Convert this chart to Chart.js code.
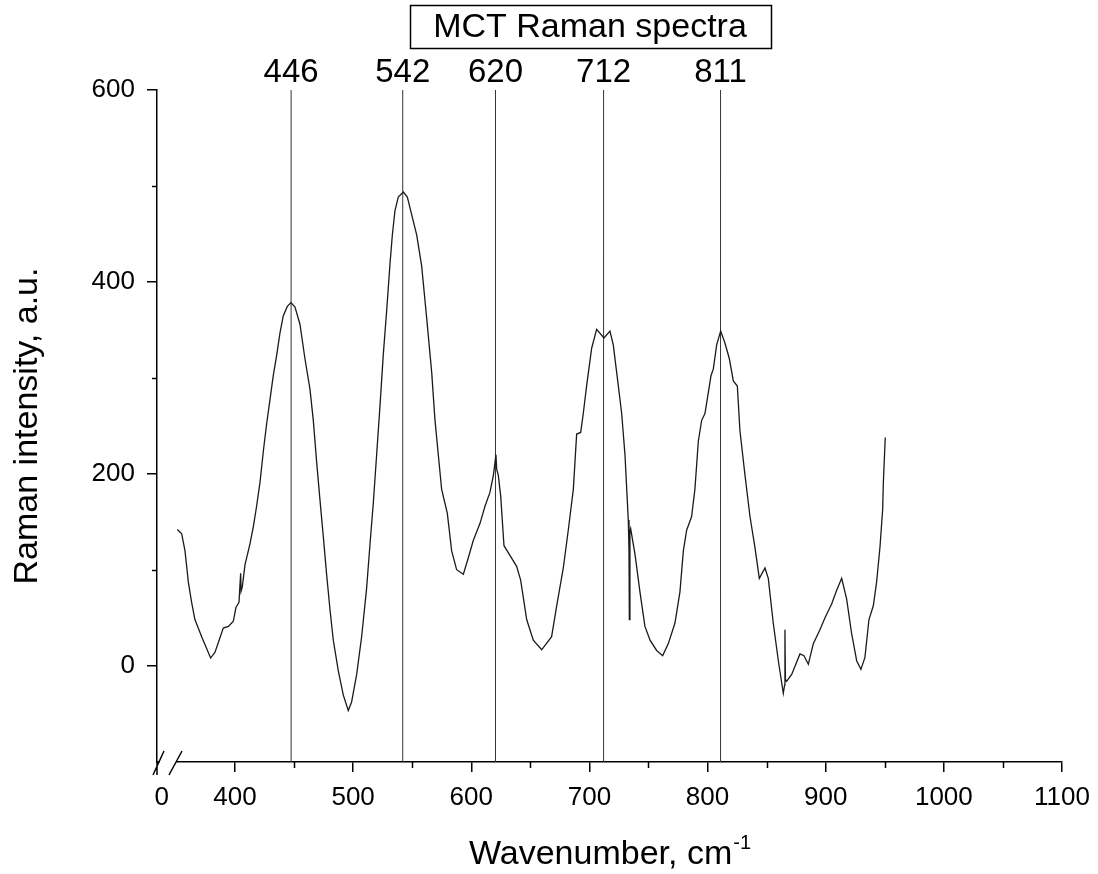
<!DOCTYPE html>
<html>
<head>
<meta charset="utf-8">
<title>MCT Raman spectra</title>
<script src="https://cdn.jsdelivr.net/npm/chart.js@4.4.1/dist/chart.umd.min.js"></script>
<style>
  html, body { margin: 0; padding: 0; background: #fff; }
  #wrap { width: 1098px; height: 874px; }
</style>
</head>
<body>
<div id="wrap"><canvas id="ramanChart" width="1098" height="874"></canvas></div>
<script>
// ---- data ----
const wavenumber = [
  351.2, 354.9, 357.7, 360.5, 363.3, 366.1, 371.8, 379.4, 383.1, 390.1,
  394.4, 398.6, 400.8, 403.4, 404.8, 405.2, 406.2, 408.5, 412.7, 415.5,
  418.3, 421.2, 424.0, 426.8, 429.6, 432.4, 435.3, 438.1, 440.9, 444.3,
  447.4, 450.8, 455.0, 459.2, 463.5, 466.3, 469.1, 471.9, 474.8, 477.6,
  480.4, 483.2, 487.5, 491.7, 495.9, 498.7, 503.0, 507.2, 511.4, 514.3,
  517.1, 519.9, 522.7, 525.5, 528.4, 531.2, 533.2, 535.4, 538.2, 542.5,
  545.9, 549.5, 553.8, 558.0, 562.2, 566.5, 569.3, 572.1, 574.9, 579.7,
  583.4, 587.6, 593.3, 597.5, 601.7, 607.4, 611.6, 615.8, 618.7, 620.9,
  621.5, 622.9, 624.9, 627.7, 631.3, 638.4, 641.8, 646.9, 652.5, 659.6,
  668.0, 672.3, 677.9, 682.1, 686.4, 689.2, 692.6, 694.8, 697.6, 701.9,
  706.1, 712.3, 717.4, 720.2, 724.5, 727.3, 730.1, 732.9, 733.5, 733.8,
  734.3, 734.9, 738.6, 742.8, 747.0, 751.3, 756.9, 762.0, 766.8, 772.4,
  776.6, 779.5, 782.3, 786.5, 789.3, 792.2, 795.0, 797.8, 800.6, 802.9,
  804.9, 807.7, 811.1, 814.7, 818.4, 821.8, 825.2, 827.4, 831.7, 835.9,
  840.1, 843.8, 848.6, 851.4, 855.6, 859.9, 864.1, 865.2, 865.5, 865.9,
  866.9, 871.2, 878.2, 881.6, 885.3, 889.5, 895.1, 899.4, 905.0, 909.3,
  913.5, 917.7, 921.9, 926.2, 929.8, 933.2, 936.6, 940.3, 943.1, 945.9,
  948.2, 948.8, 950.4
];
const intensity = [
  142.1, 137.8, 119.9, 87.7, 66.3, 48.4, 30.5, 8.3, 14.4, 39.5,
  41.2, 46.6, 60.9, 66.3, 96.7, 78.0, 82.4, 105.6, 127.1, 145.0,
  166.4, 191.5, 223.7, 252.3, 277.3, 302.4, 323.8, 347.1, 364.9, 374.6,
  378.5, 373.9, 356.0, 320.3, 288.1, 255.9, 212.9, 173.6, 134.2, 94.9,
  59.1, 26.9, -5.3, -30.3, -46.4, -37.5, -8.8, 30.5, 80.6, 127.1,
  170.0, 220.1, 270.2, 323.8, 370.3, 418.6, 449.0, 474.1, 488.4, 493.7,
  488.4, 470.5, 449.0, 416.8, 363.2, 305.9, 255.9, 220.1, 184.3, 159.3,
  119.9, 100.3, 95.6, 112.8, 130.7, 148.6, 166.4, 180.8, 198.6, 220.1,
  205.0, 198.6, 177.2, 125.3, 118.1, 103.8, 89.5, 48.4, 26.9, 16.9,
  30.5, 62.7, 102.1, 141.4, 184.3, 241.6, 243.3, 263.0, 291.6, 331.0,
  350.6, 341.7, 348.9, 334.5, 291.6, 263.0, 220.1, 152.1, 120.0, 48.4,
  140.0, 143.2, 116.3, 77.0, 41.2, 26.9, 16.2, 10.8, 23.3, 44.8,
  77.0, 119.9, 141.4, 155.7, 184.3, 234.4, 255.9, 263.0, 284.5, 302.4,
  309.5, 334.5, 348.9, 336.4, 320.3, 297.0, 291.6, 245.1, 198.6, 155.7,
  123.5, 91.3, 102.1, 91.3, 44.8, 5.5, -28.5, -20.0, 37.7, -14.0,
  -16.0, -8.8, 12.6, 10.8, 1.9, 23.3, 37.7, 50.2, 64.5, 78.8,
  91.3, 69.9, 34.1, 5.5, -3.5, 9.0, 48.4, 62.7, 87.7, 123.5,
  162.9, 191.5, 238.0
];

// marked peaks: where the line sits, and the label written above it
const peakPositions = [447.5, 542, 620.5, 712, 811];
const peakLabels = ['446', '542', '620', '712', '811'];

// axes (the x axis is broken: its left end stands for 0)
const X_MIN = 334, X_MAX = 1100, Y_MIN = -100, Y_MAX = 600;
const ZERO_TICK = 338;
const xMajorTicks = [400, 500, 600, 700, 800, 900, 1000, 1100];
const xMinorTicks = [450, 550, 650, 750, 850, 950, 1050];
const yMajorTicks = [0, 200, 400, 600];
const yMinorTicks = [100, 300, 500];

const chartTitle = 'MCT Raman spectra';
const xTitle = 'Wavenumber, cm';
const xTitleSup = '-1';
const yTitle = 'Raman intensity, a.u.';

const FONT = '"Liberation Sans", Arial, sans-serif';

// ---- datasets ----
const spectrum = wavenumber.map((w, i) => ({ x: w, y: intensity[i] }));

const peakSets = peakPositions.map(p => ({
  data: [{ x: p, y: Y_MIN }, { x: p, y: Y_MAX }],
  borderColor: '#333333',
  borderWidth: 1,
  pointRadius: 0
}));

// ---- extra drawing: minor ticks, axis break, title box, peak labels, x title ----
const decorPlugin = {
  id: 'decor',
  afterDraw(chart) {
    const { ctx, chartArea: area, scales: { x, y } } = chart;
    ctx.save();
    ctx.strokeStyle = '#000';
    ctx.lineWidth = 1.5;

    // minor ticks
    ctx.beginPath();
    xMinorTicks.forEach(v => {
      const px = Math.round(x.getPixelForValue(v)) + 0.5;
      ctx.moveTo(px, area.bottom);
      ctx.lineTo(px, area.bottom + 6);
    });
    yMinorTicks.forEach(v => {
      const py = Math.round(y.getPixelForValue(v)) + 0.5;
      ctx.moveTo(area.left, py);
      ctx.lineTo(area.left - 5, py);
    });
    ctx.stroke();

    // axis break near the origin
    ctx.fillStyle = '#fff';
    ctx.fillRect(area.left + 3, area.bottom - 3, 16, 6);
    ctx.beginPath();
    ctx.moveTo(area.left, area.bottom);
    ctx.lineTo(area.left, area.bottom + 13);
    ctx.moveTo(area.left - 4, area.bottom + 13);
    ctx.lineTo(area.left + 7, area.bottom - 11);
    ctx.moveTo(area.left + 12, area.bottom + 13);
    ctx.lineTo(area.left + 25, area.bottom - 11);
    ctx.stroke();

    // boxed title
    ctx.fillStyle = '#000';
    ctx.font = '34px ' + FONT;
    ctx.textAlign = 'center';
    ctx.textBaseline = 'middle';
    const tw = ctx.measureText(chartTitle).width;
    const tcx = 590;
    ctx.lineWidth = 1.5;
    ctx.strokeRect(Math.round(tcx - tw / 2 - 23) + 0.5, 5.5, Math.round(tw + 47), 43);
    ctx.fillText(chartTitle, tcx, 28);

    // peak labels
    ctx.font = '33px ' + FONT;
    peakPositions.forEach((p, i) => {
      ctx.fillText(peakLabels[i], x.getPixelForValue(p), 73);
    });

    // x axis title with superscript
    ctx.textAlign = 'left';
    ctx.textBaseline = 'alphabetic';
    ctx.font = '34px ' + FONT;
    const w1 = ctx.measureText(xTitle).width;
    ctx.font = '20px ' + FONT;
    const w2 = ctx.measureText(xTitleSup).width;
    const start = (area.left + area.right) / 2 - (w1 + w2) / 2;
    ctx.font = '34px ' + FONT;
    ctx.fillText(xTitle, start, 864);
    ctx.font = '20px ' + FONT;
    ctx.fillText(xTitleSup, start + w1 + 1, 849);

    ctx.restore();
  }
};

new Chart(document.getElementById('ramanChart'), {
  type: 'line',
  data: {
    datasets: [
      {
        data: spectrum,
        borderColor: '#1a1a1a',
        borderWidth: 1.3,
        pointRadius: 0,
        tension: 0
      },
      ...peakSets
    ]
  },
  options: {
    responsive: false,
    devicePixelRatio: 1,
    animation: false,
    layout: { padding: { top: 90, right: 36, left: 0, bottom: 0 } },
    plugins: { legend: { display: false }, tooltip: { enabled: false }, title: { display: false } },
    scales: {
      x: {
        type: 'linear',
        min: X_MIN,
        max: X_MAX,
        afterBuildTicks: s => { s.ticks = [ZERO_TICK, ...xMajorTicks].map(v => ({ value: v })); },
        afterFit: s => { s.height = 112; },
        grid: {
          drawOnChartArea: false,
          drawTicks: true,
          tickLength: 10,
          lineWidth: 1.5,
          color: c => (c.tick && c.tick.value === ZERO_TICK) ? 'rgba(0,0,0,0)' : '#000'
        },
        border: { display: true, color: '#000', width: 1.5 },
        ticks: {
          autoSkip: false,
          maxRotation: 0,
          padding: 6,
          color: '#000',
          font: { family: FONT, size: 26, lineHeight: 1.55 },
          callback: v => (v === ZERO_TICK ? '0' : String(v))
        },
        title: { display: false }
      },
      y: {
        type: 'linear',
        min: Y_MIN,
        max: Y_MAX,
        afterBuildTicks: s => { s.ticks = yMajorTicks.map(v => ({ value: v })); },
        afterFit: s => { s.width = 157; },
        grid: {
          drawOnChartArea: false,
          drawTicks: true,
          tickLength: 10,
          lineWidth: 1.5,
          color: '#000'
        },
        border: { display: true, color: '#000', width: 1.5 },
        ticks: {
          padding: 12,
          color: '#000',
          font: { family: FONT, size: 26 }
        },
        title: {
          display: true,
          text: yTitle,
          color: '#000',
          font: { family: FONT, size: 34 },
          padding: { top: 7, bottom: 0 }
        }
      }
    }
  },
  plugins: [decorPlugin]
});
</script>
</body>
</html>
